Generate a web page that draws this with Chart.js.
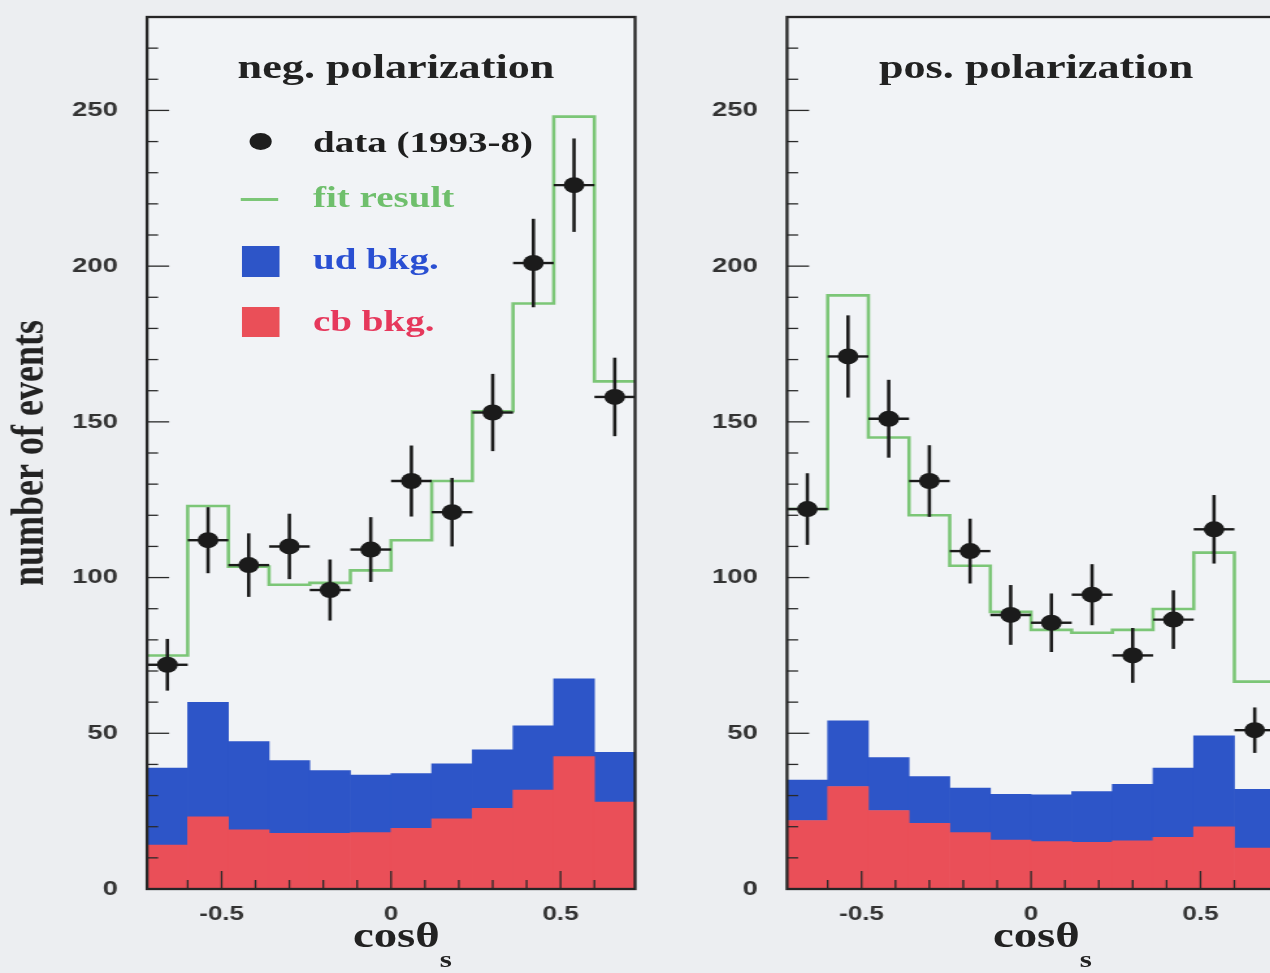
<!DOCTYPE html>
<html><head><meta charset="utf-8">
<script src="https://cdn.jsdelivr.net/npm/chart.js@4.4.1/dist/chart.umd.min.js"></script>
<style>
html,body{margin:0;padding:0;background:#eceef1;overflow:hidden;width:1270px;height:973px;}
#stage{position:absolute;left:0;top:0;width:1000px;height:973px;transform:scaleX(1.3);transform-origin:0 0;}
canvas{position:absolute;top:0;}
.t{position:absolute;white-space:nowrap;line-height:1;font-family:"Liberation Serif","Times New Roman",serif;font-weight:bold;color:#222;}
.c{transform:translate(-50%,-50%);}
.l{transform:translate(0,-50%);}
.sym{position:absolute;}
</style></head><body>
<div id="stage">
  <canvas id="c1" width="500" height="973" style="left:0"></canvas>
  <canvas id="c2" width="500" height="973" style="left:500px"></canvas>

  <div class="t c" style="left:304.6px;top:66.8px;font-size:34px;">neg. polarization</div>
  <div class="t c" style="left:797px;top:66.8px;font-size:34px;">pos. polarization</div>

  <div class="sym" style="left:191.5px;top:132.5px;width:17px;height:17px;border-radius:50%;background:#1e1e1e;"></div>
  <div class="t l" style="left:240.8px;top:141.6px;font-size:30px;color:#1e1e1e;">data (1993-8)</div>
  <div class="sym" style="left:184.6px;top:197.5px;width:29.2px;height:3px;background:#7cc677;"></div>
  <div class="t l" style="left:240.8px;top:197.2px;font-size:30px;color:#6fbf6c;">fit result</div>
  <div class="sym" style="left:186px;top:246px;width:28.6px;height:31px;background:#2d55c8;"></div>
  <div class="t l" style="left:240.8px;top:259.2px;font-size:30px;color:#2a4fd2;">ud bkg.</div>
  <div class="sym" style="left:186px;top:307px;width:28.6px;height:30px;background:#ea4f58;"></div>
  <div class="t l" style="left:240.8px;top:320.6px;font-size:30px;color:#e6385c;">cb bkg.</div>

  <div class="t l" style="left:271.5px;top:934.9px;font-size:36px;">cosθ<span style="font-size:24px;position:relative;top:20px;">s</span></div>
  <div class="t l" style="left:763.8px;top:934.9px;font-size:36px;">cosθ<span style="font-size:24px;position:relative;top:20px;">s</span></div>
</div>
<script>
// ---- data ----
const binCenters = [-0.66,-0.54,-0.42,-0.30,-0.18,-0.06,0.06,0.18,0.30,0.42,0.54,0.66];
const binEdges   = [-0.72,-0.60,-0.48,-0.36,-0.24,-0.12,0,0.12,0.24,0.36,0.48,0.60,0.72];
const binWidth   = 0.12;

// negative polarization
const negData = [72, 112, 104, 110, 96, 109, 131, 121, 153, 201, 226, 158];
const negErr  = [8.3, 10.6, 10.2, 10.5, 9.8, 10.4, 11.4, 11.0, 12.4, 14.2, 15.0, 12.6];
const negFit  = [75, 123, 103.5, 97.7, 98.3, 102.3, 112, 131, 153.4, 188, 248, 163];
const negCb   = [14.1, 23.2, 19.0, 17.9, 17.9, 18.1, 19.5, 22.5, 25.9, 31.8, 42.5, 27.9];
const negUd   = [24.7, 36.7, 28.3, 23.3, 20.1, 18.5, 17.6, 17.7, 18.8, 20.6, 25.0, 16.0];

// positive polarization
const posData = [122, 171, 151, 131, 108.5, 88, 85.5, 94.5, 75, 86.5, 115.5, 51];
const posErr  = [11.5, 13.2, 12.5, 11.5, 10.4, 9.6, 9.4, 9.8, 8.8, 9.4, 11.0, 7.3];
const posFit  = [122, 190.6, 145, 120, 103.8, 89, 83.2, 82.3, 83.2, 89.9, 108, 66.6];
const posCb   = [22.0, 32.9, 25.2, 21.1, 18.1, 15.7, 15.2, 15.0, 15.5, 16.6, 20.0, 13.1];
const posUd   = [13.0, 21.1, 17.0, 15.0, 14.3, 14.7, 15.0, 16.3, 18.1, 22.2, 29.2, 18.9];

const yMax = 280;
const xMin = -0.72, xMax = 0.72;

// ---- styles ----
const COL_UD = '#2d55c8', COL_CB = '#ea4f58', COL_FIT = '#7cc677', COL_PT = '#1b1b1b';

const decor = {
  id: 'decor',
  beforeDatasetsDraw(chart) {
    const {ctx, chartArea: a} = chart;
    ctx.save();
    ctx.fillStyle = '#f1f3f6';
    ctx.fillRect(a.left, a.top, a.right - a.left, a.bottom - a.top);
    ctx.restore();
  },
  beforeDatasetDraw(chart, args) {
    const ds = chart.data.datasets[args.index];
    if (!ds.errorBars) return;
    const {ctx} = chart, xs = chart.scales.x, ys = chart.scales.y;
    ctx.save();
    ctx.strokeStyle = COL_PT;
    ds.data.forEach((p, i) => {
      const e = ds.errorBars[i];
      const px = xs.getPixelForValue(p.x), py = ys.getPixelForValue(p.y);
      ctx.lineWidth = 2.6;
      ctx.beginPath();
      ctx.moveTo(px, ys.getPixelForValue(p.y - e));
      ctx.lineTo(px, ys.getPixelForValue(p.y + e));
      ctx.stroke();
      ctx.lineWidth = 2.4;
      ctx.beginPath();
      ctx.moveTo(xs.getPixelForValue(p.x - binWidth / 2), py);
      ctx.lineTo(xs.getPixelForValue(p.x + binWidth / 2), py);
      ctx.stroke();
    });
    ctx.restore();
  },
  afterDatasetsDraw(chart) {
    const {ctx, chartArea: a} = chart, xs = chart.scales.x, ys = chart.scales.y;
    ctx.save();
    ctx.strokeStyle = '#2a2a2a';
    ctx.lineWidth = 1.3;
    xs.ticks.forEach(t => {
      const v = t.value, k = v * 10;
      if (Math.abs(k - Math.round(k)) > 1e-6) return;
      if (v <= xs.min + 1e-9 || v >= xs.max - 1e-9) return;
      const major = Math.abs(v * 2 - Math.round(v * 2)) < 1e-6;
      const px = xs.getPixelForValue(v);
      ctx.beginPath(); ctx.moveTo(px, a.bottom); ctx.lineTo(px, a.bottom - (major ? 18 : 9)); ctx.stroke();
    });
    ys.ticks.forEach(t => {
      const v = t.value;
      if (v <= ys.min || v >= ys.max) return;
      const major = v % 50 === 0;
      const py = ys.getPixelForValue(v);
      ctx.beginPath(); ctx.moveTo(a.left, py); ctx.lineTo(a.left + (major ? 17 : 8.5), py); ctx.stroke();
    });
    ctx.lineWidth = 2.3;
    ctx.strokeStyle = '#262626';
    ctx.strokeRect(a.left, a.top, a.right - a.left, a.bottom - a.top);
    ctx.restore();
  }
};

function pts(xsArr, ysArr) { return xsArr.map((x, i) => ({x, y: ysArr[i]})); }
function stepPts(fit) {
  const out = fit.map((v, i) => ({x: binEdges[i], y: v}));
  out.push({x: binEdges[binEdges.length - 1], y: fit[fit.length - 1]});
  return out;
}

function makeChart(id, data, err, fit, cb, ud, yAxisWidth, padRight, showYTitle) {
  return new Chart(document.getElementById(id), {
    type: 'bar',
    data: {
      datasets: [
        {type: 'line', label: 'data', data: pts(binCenters, data), errorBars: err, showLine: false,
         pointStyle: 'circle', pointRadius: 8, pointBackgroundColor: COL_PT, pointBorderColor: COL_PT,
         pointBorderWidth: 0, order: 0},
        {type: 'line', label: 'fit result', data: stepPts(fit), stepped: 'before',
         borderColor: COL_FIT, borderWidth: 2.6, pointRadius: 0, fill: false, order: 1},
        {type: 'bar', label: 'cb bkg.', data: pts(binCenters, cb), backgroundColor: COL_CB, stack: 'bkg',
         barThickness: 'flex', barPercentage: 1, categoryPercentage: 1, borderWidth: 0, order: 2},
        {type: 'bar', label: 'ud bkg.', data: pts(binCenters, ud), backgroundColor: COL_UD, stack: 'bkg',
         barThickness: 'flex', barPercentage: 1, categoryPercentage: 1, borderWidth: 0, order: 3}
      ]
    },
    options: {
      responsive: false,
      animation: false,
      devicePixelRatio: 1,
      layout: {padding: {top: 17, right: padRight, left: 0, bottom: 0}},
      plugins: {legend: {display: false}, tooltip: {enabled: false}},
      scales: {
        x: {
          type: 'linear', min: xMin, max: xMax, offset: false,
          grid: {display: false}, border: {display: false},
          ticks: {
            stepSize: 0.1, autoSkip: false, maxRotation: 0, padding: 5, color: '#333',
            font: {family: 'Liberation Sans', weight: 'bold', size: 20},
            callback: v => Math.abs(v * 2 - Math.round(v * 2)) < 1e-6 ? String(+(+v).toFixed(1)) : ''
          },
          afterFit: s => { s.height = 84; s.paddingLeft = 0; s.paddingRight = 0; }
        },
        y: {
          min: 0, max: yMax,
          grid: {display: false}, border: {display: false},
          ticks: {
            stepSize: 10, autoSkip: false, padding: 14.5, color: '#333',
            font: {family: 'Liberation Sans', weight: 'bold', size: 21},
            callback: v => v % 50 === 0 ? String(v) : ''
          },
          title: {display: showYTitle, text: 'number of events', color: '#222',
                  font: {family: 'Liberation Serif', weight: 'bold', size: 36},
                  padding: {top: 2, bottom: 0}},
          afterFit: s => { s.width = yAxisWidth; s.paddingTop = 0; s.paddingBottom = 0; }
        }
      }
    },
    plugins: [decor]
  });
}

makeChart('c1', negData, negErr, negFit, negCb, negUd, 113.1, 11.5, true);
makeChart('c2', posData, posErr, posFit, posCb, posUd, 105.4, 19.2, false);
</script>
</body></html>
